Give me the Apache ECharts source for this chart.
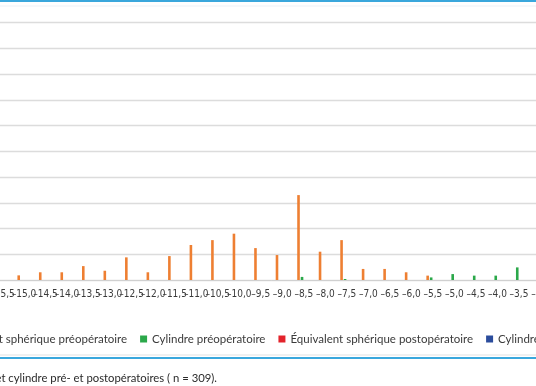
<!DOCTYPE html>
<html>
<head>
<meta charset="utf-8">
<script src="https://cdn.jsdelivr.net/npm/echarts@6/dist/echarts.min.js"></script>
<style>
html,body{margin:0;padding:0;width:536px;height:386px;overflow:hidden;background:#fff;position:relative;}
#c{position:absolute;left:-100px;top:0;width:736px;height:386px;}
</style>
</head>
<body>
<div id="c"></div>
<script>
// Categories (dioptries)
const categories = [-15.5,-15.0,-14.5,-14.0,-13.5,-13.0,-12.5,-12.0,-11.5,-11.0,-10.5,-10.0,-9.5,-9.0,-8.5,-8.0,-7.5,-7.0,-6.5,-6.0,-5.5,-5.0,-4.5,-4.0,-3.5,-3.0];
const categoryLabels = categories.map(v => '\u2013' + Math.abs(v).toFixed(1).replace('.', ','));
const seriesNames = ['Équivalent sphérique préopératoire','Cylindre préopératoire','Équivalent sphérique postopératoire','Cylindre postopératoire'];
const esPre   = [0,1.8,3.0,3.0,5.4,3.6,8.8,3.0,9.3,13.6,15.5,18.0,12.4,9.7,33.0,11.0,15.5,4.3,4.3,3.0,1.7,0,0,0,0,0];
const cylPre  = [0,0,0,0,0,0,0,0,0,0,0,0,0,0,1.2,0,0.4,0,0,0,1.0,2.3,1.7,1.7,4.9,0];
const esPost  = [0,0,0,0,0,0,0,0,0,0,0,0,0,0,0,0,0,0,0,0,0,0,0,0,0,0];
const cylPost = [0,0,0,0,0,0,0,0,0,0,0,0,0,0,0,0,0,0,0,0,0,0,0,0,0,0];
const yMax = 100, yInterval = 10;
const caption = 'Figure 2. Répartition de l\u2019équivalent sphérique et cylindre pré- et postopératoires ( n = 309).';

const colors = ['#ee7f32','#2ba84a','#e3232b','#2b4c9c'];
const OX = 100; // div offset
const chart = echarts.init(document.getElementById('c'));
const values = [esPre, cylPre, esPost, cylPost];
chart.setOption({
  animation:false,
  color: colors,
  grid:{left:OX-8.3, right:736-(OX+551.3), top:22.7, bottom:386-280},
  legend:{
    left: OX-67, top: 328, itemWidth:7, itemHeight:7, itemGap:13,
    icon:'rect',
    textStyle:{fontFamily:'Lato, "Liberation Sans", sans-serif', fontSize:11.5, color:'#3a3a3a'},
    data: seriesNames
  },
  xAxis:{
    type:'category', data: categoryLabels,
    axisTick:{show:false},
    axisLine:{lineStyle:{color:'#d0d0d0', width:1}},
    axisLabel:{interval:0, margin:9, color:'#3a3a3a', fontSize:10,
      fontFamily:'"Liberation Sans Narrow", "DejaVu Sans Condensed", "Roboto Condensed", sans-serif'}
  },
  yAxis:{
    type:'value', min:0, max:yMax, interval:yInterval,
    axisLabel:{show:false}, axisLine:{show:false}, axisTick:{show:false},
    splitLine:{lineStyle:{color:'#dcdcdc', width:1.3}}
  },
  series: seriesNames.map((n,i)=>({
    name:n, type:'bar', data: values[i], barWidth:2.6, barGap:'35%',
    itemStyle:{color:colors[i]}
  })),
  graphic:[
    {type:'rect', shape:{x:0,y:0,width:736,height:2}, style:{fill:'#3aa7dc'}},
    {type:'rect', shape:{x:0,y:5.5,width:736,height:1}, style:{fill:'#eef2f8'}},
    {type:'rect', shape:{x:0,y:354.5,width:736,height:1}, style:{fill:'#e2e2e2'}},
    {type:'rect', shape:{x:0,y:357,width:736,height:2}, style:{fill:'#3aa7dc'}},
    {type:'text', x: OX+217, y: 378, style:{text: caption, textAlign:'right', textVerticalAlign:'middle',
      font:'11.3px Lato, "Liberation Sans", sans-serif', fill:'#2a2a2a'}}
  ]
});
</script>
</body>
</html>
